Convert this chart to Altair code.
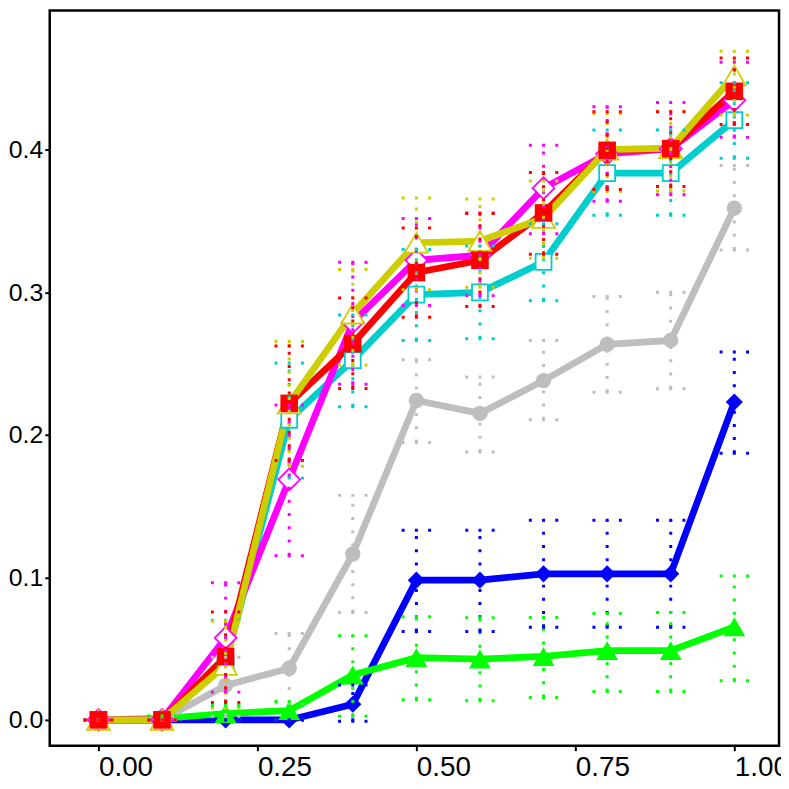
import altair as alt
import pandas as pd

# ---- data ----
x_vals = [0.0, 0.1, 0.2, 0.3, 0.4, 0.5, 0.6, 0.7, 0.8, 0.9, 1.0]

blue_mean = [0, 0, 0, 0, 0.011, 0.098, 0.098, 0.1025, 0.1025, 0.1025, 0.223]
blue_lo = [0, 0, 0, 0, -0.001, 0.062, 0.062, 0.065, 0.065, 0.065, 0.187]
blue_hi = [0, 0, 0, 0, 0.0245, 0.133, 0.133, 0.140, 0.140, 0.140, 0.258]

green_mean = [0, 0.001, 0.0045, 0.0065, 0.0315, 0.0437, 0.0427, 0.0445, 0.0486, 0.0486, 0.0653]
green_lo = [0, 0, 0, 0, 0.0026, 0.0142, 0.0135, 0.0158, 0.020, 0.020, 0.0274]
green_hi = [0, 0.003, 0.010, 0.013, 0.059, 0.0723, 0.0716, 0.0718, 0.0746, 0.0753, 0.101]

gray_mean = [0, 0, 0.0242, 0.0362, 0.1164, 0.224, 0.215, 0.238, 0.2634, 0.2662, 0.359]
gray_lo = [0, 0, 0.0026, 0.0118, 0.0753, 0.1946, 0.188, 0.2105, 0.2298, 0.2323, 0.3296]
gray_hi = [0, 0, 0.044, 0.0606, 0.1575, 0.2527, 0.2406, 0.2662, 0.297, 0.300, 0.3889]

cyan_mean = [0, 0, 0.040, 0.2105, 0.2523, 0.2983, 0.2999, 0.3213, 0.3835, 0.3835, 0.4207]
cyan_lo = [0, 0, 0.010, 0.1696, 0.2197, 0.2662, 0.2674, 0.294, 0.354, 0.354, 0.394]
cyan_hi = [0, 0, 0.070, 0.2504, 0.284, 0.330, 0.3324, 0.348, 0.4137, 0.4137, 0.4469]

magenta_mean = [0, 0, 0.0576, 0.1686, 0.279, 0.3224, 0.326, 0.373, 0.397, 0.4007, 0.4346]
magenta_lo = [0, 0, 0.0195, 0.1152, 0.2355, 0.2906, 0.2976, 0.341, 0.3638, 0.3684, 0.4086]
magenta_hi = [0, 0, 0.0962, 0.2209, 0.321, 0.3517, 0.3556, 0.403, 0.430, 0.433, 0.4613]

yellow_mean = [0, 0, 0.0385, 0.222, 0.285, 0.3347, 0.3359, 0.352, 0.400, 0.401, 0.452]
yellow_lo = [0, 0, 0.0084, 0.178, 0.249, 0.3017, 0.3034, 0.3238, 0.3707, 0.371, 0.4242]
yellow_hi = [0, 0, 0.0692, 0.2655, 0.316, 0.366, 0.3654, 0.378, 0.4253, 0.427, 0.469]

red_mean = [0, 0, 0.0444, 0.222, 0.2639, 0.3138, 0.3224, 0.3556, 0.3995, 0.4007, 0.4409]
red_lo = [0, 0, 0.0123, 0.182, 0.2325, 0.2824, 0.2899, 0.3266, 0.372, 0.3742, 0.4177]
red_hi = [0, 0, 0.0757, 0.2622, 0.296, 0.345, 0.3552, 0.384, 0.4265, 0.4265, 0.4643]

x_ticks = [0.0, 0.25, 0.5, 0.75, 1.0]
y_ticks = [0.0, 0.1, 0.2, 0.3, 0.4, 0.5]

# series: name, colour, marker shape, filled, marker size
series = [
    ("blue", "#0000FF", "diamond", True, 300, blue_mean, blue_lo, blue_hi),
    ("green", "#00FF00", "triangle-up", True, 484, green_mean, green_lo, green_hi),
    ("gray", "#BEBEBE", "circle", True, 240, gray_mean, gray_lo, gray_hi),
    ("cyan", "#00CDCD", "square", False, 256, cyan_mean, cyan_lo, cyan_hi),
    ("magenta", "#FF00FF", "diamond", False, 484, magenta_mean, magenta_lo, magenta_hi),
    ("yellow", "#CDCD00", "triangle-up", False, 529, yellow_mean, yellow_lo, yellow_hi),
    ("red", "#FF0000", "square", True, 313, red_mean, red_lo, red_hi),
]

frames = {}
for name, col, shape, filled, size, m, lo, hi in series:
    frames[name] = pd.DataFrame({"x": x_vals, "mean": m, "lo": lo, "hi": hi,
                                 "series": name, "col": col})
all_df = pd.concat(list(frames.values()), ignore_index=True)

FONT = "Liberation Sans"

x_scale = alt.Scale(domain=[-0.0766, 1.0703], nice=False, zero=False)
y_scale = alt.Scale(domain=[-0.0181, 0.4976], nice=False, zero=False)

x_axis = alt.Axis(values=x_ticks, format=".2f", title=None, labelAlign="left",
                  labelBaseline="top", labelPadding=3, labelFlush=False,
                  labelFontSize=28)
y_axis = alt.Axis(values=y_ticks, format=".1f", title=None, labelPadding=2,
                  labelFlush=False, labelFontSize=25)

X = alt.X("x:Q", scale=x_scale, axis=x_axis)
Y_mean = alt.Y("mean:Q", scale=y_scale, axis=y_axis)

line_order = ["blue", "green", "gray", "cyan", "magenta", "red", "yellow"]
point_order = ["blue", "green", "gray", "cyan", "magenta", "yellow", "red"]
info = {s[0]: s for s in series}

layers = []
for name in line_order:
    col = info[name][1]
    layers.append(
        alt.Chart(frames[name]).mark_line(color=col, strokeWidth=6.8, clip=True)
        .encode(x=X, y=Y_mean)
    )
for name in point_order:
    _, col, shape, filled, size, *_ = info[name]
    if filled:
        mk = alt.Chart(frames[name]).mark_point(shape=shape, size=size, filled=True,
                                                fill=col, stroke=col, strokeWidth=0,
                                                opacity=1)
    else:
        mk = alt.Chart(frames[name]).mark_point(shape=shape, size=size, filled=True,
                                                fill="white", stroke=col,
                                                strokeWidth=1.8, opacity=1)
    layers.append(mk.encode(x=X, y=Y_mean))

DASH = [3, 10.3]
err_v = alt.Chart(all_df).mark_rule(strokeDash=DASH, strokeWidth=3, strokeCap="butt").encode(
    x=X, y=alt.Y("lo:Q", scale=y_scale, axis=y_axis), y2="hi:Q",
    color=alt.Color("col:N", scale=None))
cap_lo = alt.Chart(all_df).mark_rule(strokeDash=DASH, strokeWidth=3, strokeCap="butt",
                                     xOffset=-14.8, x2Offset=14.8).encode(
    x=X, x2="x:Q", y=alt.Y("lo:Q", scale=y_scale, axis=y_axis),
    color=alt.Color("col:N", scale=None))
cap_hi = alt.Chart(all_df).mark_rule(strokeDash=DASH, strokeWidth=3, strokeCap="butt",
                                     xOffset=-14.8, x2Offset=14.8).encode(
    x=X, x2="x:Q", y=alt.Y("hi:Q", scale=y_scale, axis=y_axis),
    color=alt.Color("col:N", scale=None))
layers += [err_v, cap_lo, cap_hi]

chart = alt.layer(*layers).properties(
    width=734, height=740,
    autosize=alt.AutoSizeParams(type="none"),
    padding={"left": 42, "top": 0, "right": 2, "bottom": 33},
).configure_view(
    stroke="black", strokeWidth=2.5
).configure_axis(
    domain=False, grid=False, tickColor="black", tickWidth=2, tickSize=5,
    labelFont=FONT, labelColor="black"
)

chart.save("out.html", embed_options={"renderer": "svg", "actions": False})
